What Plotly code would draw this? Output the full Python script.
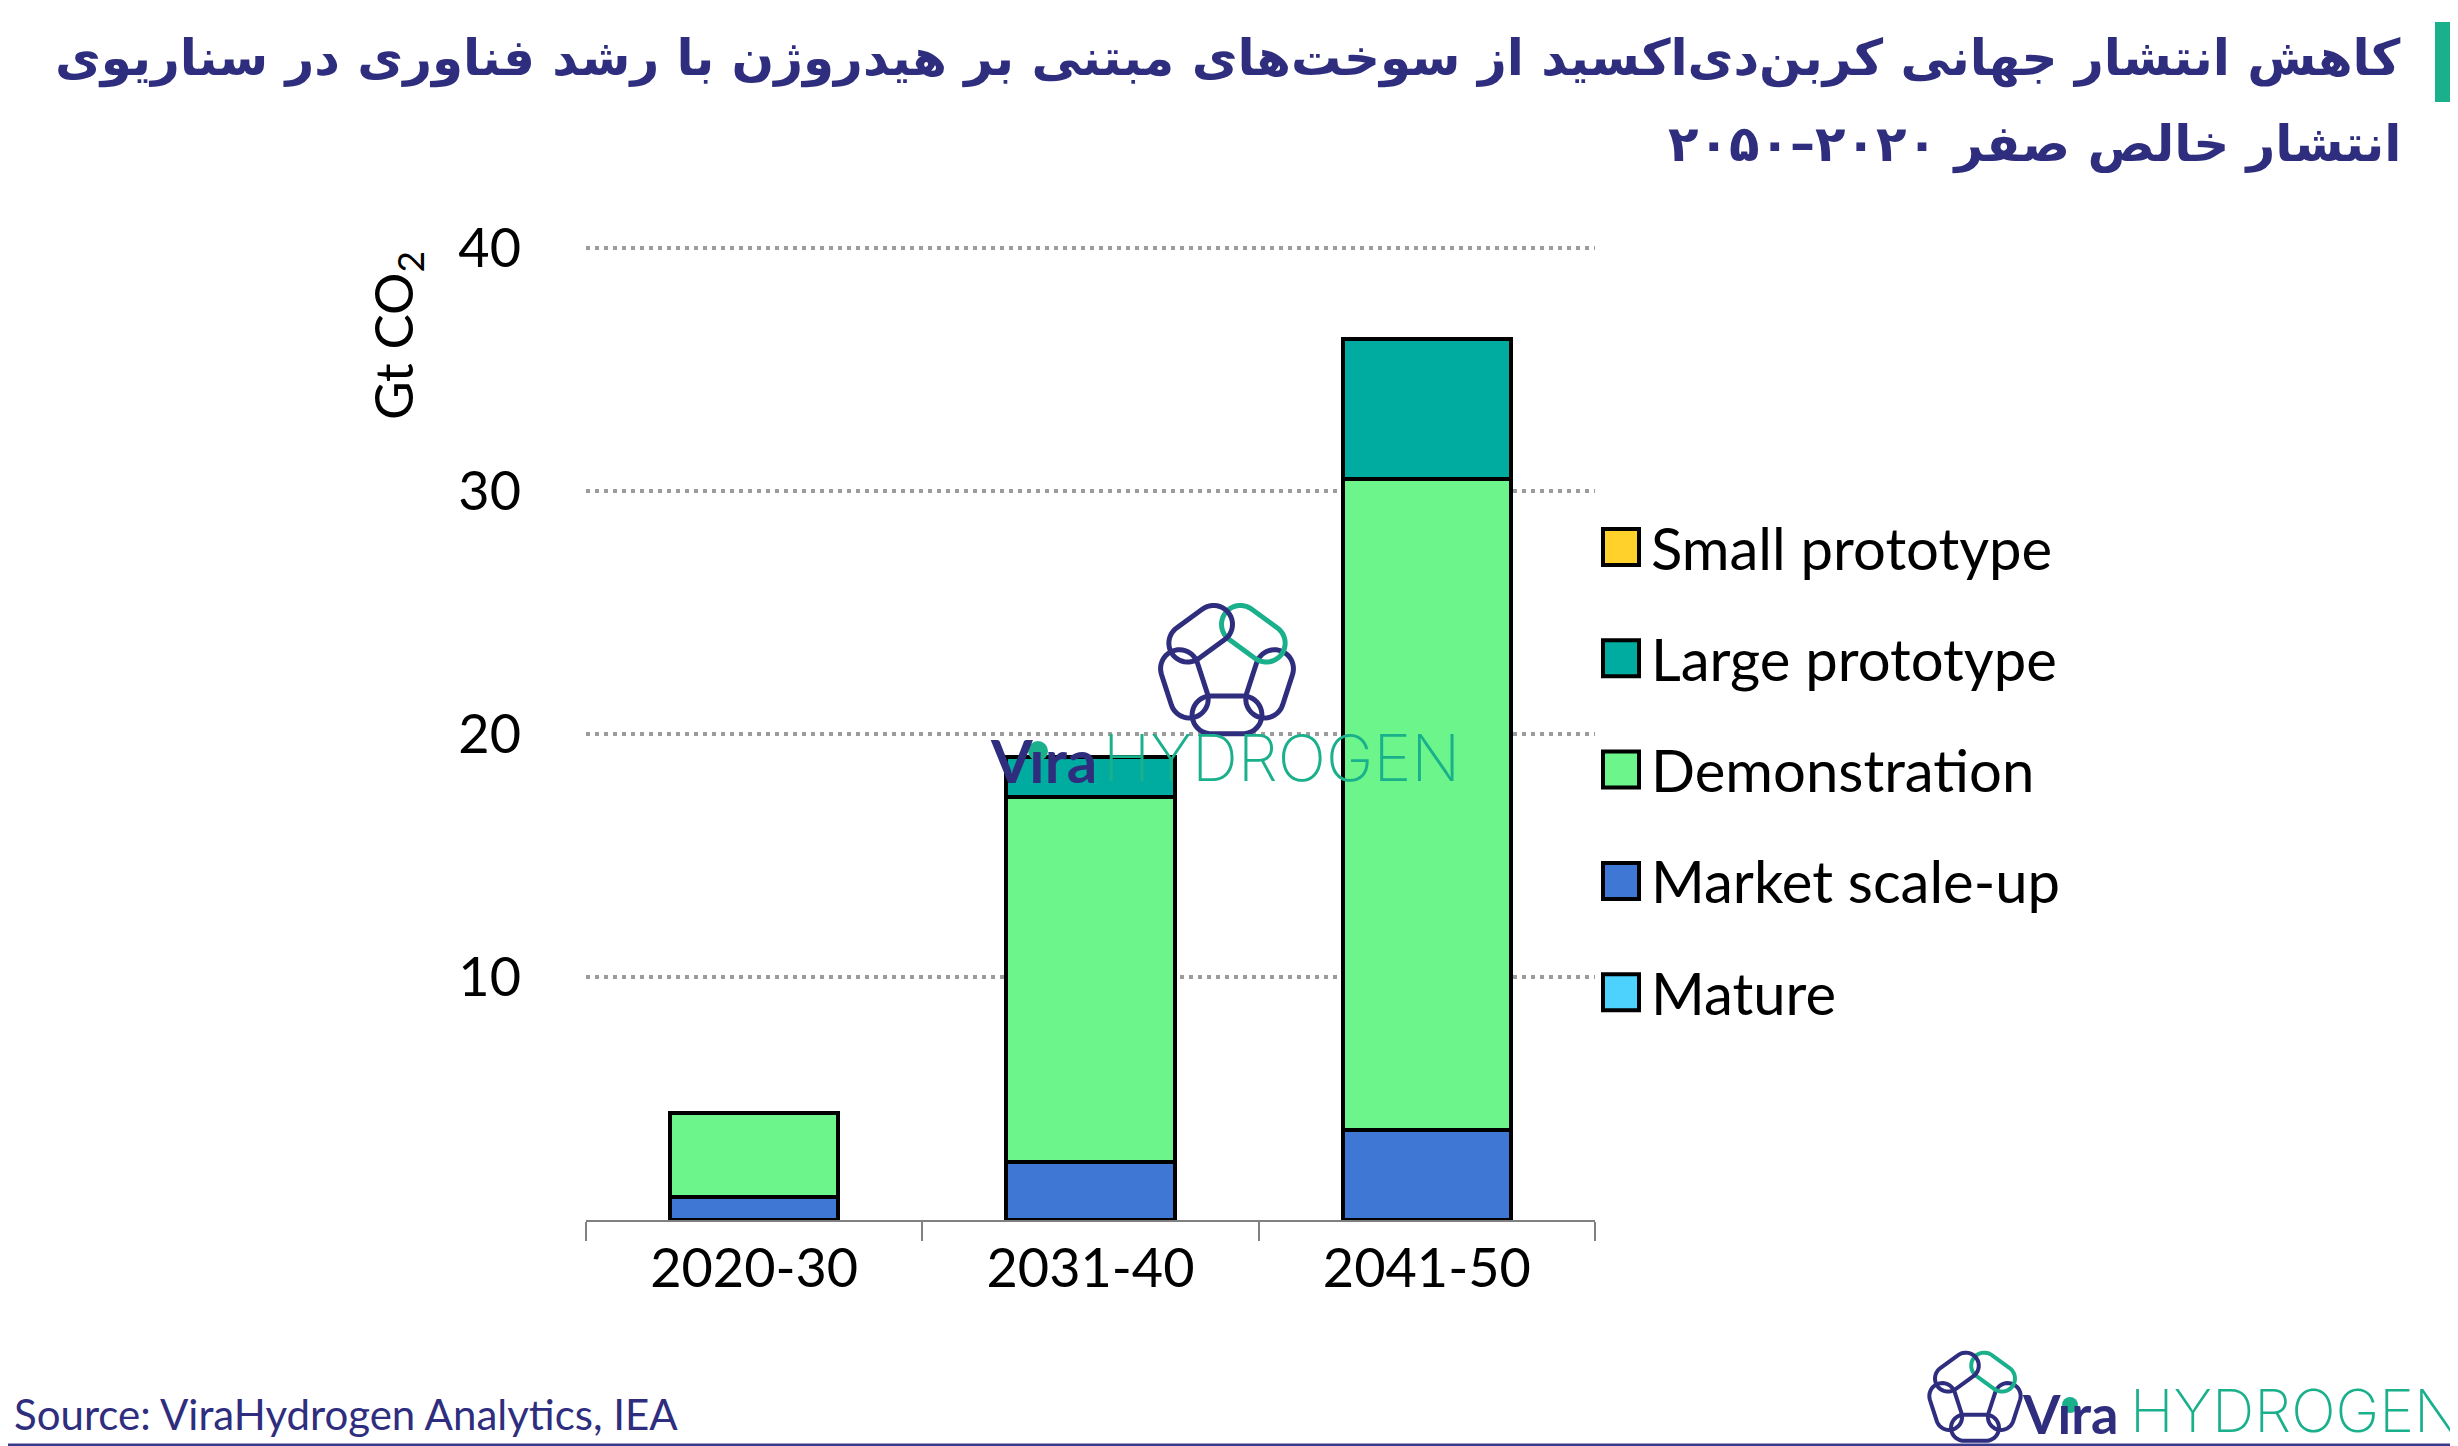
import numpy as np
import plotly.graph_objects as go

# ---- data ----
categories = ["2020-30", "2031-40", "2041-50"]
series_names = ["Small prototype", "Large prototype", "Demonstration", "Market scale-up", "Mature"]
series_colors = ["#FFD12A", "#00AB9F", "#6BF58A", "#3E78D4", "#4DD2FD"]
small_proto = [0, 0, 0]
large_proto = [0, 1.65, 5.75]
demonstration = [3.47, 15.0, 26.8]
market_scaleup = [0.95, 2.4, 3.7]
mature = [0, 0, 0]
series_values = [small_proto, large_proto, demonstration, market_scaleup, mature]

y_ticks = [10, 20, 30, 40]

title_lines = [
    "کاهش انتشار جهانی کربن\u200cدی\u200cاکسید از سوخت\u200cهای مبتنی بر هیدروژن با رشد فناوری در سناریوی",
    "انتشار خالص صفر ۲۰۲۰–۲۰۵۰",
]
source_text = "Source: ViraHydrogen Analytics, IEA"

# ---- page geometry (pixels) ----
W, H = 2458, 1446
ML, MR, MT, MB = 578, 871, 233, 234
PW, PH = W - ML - MR, H - MT - MB

NAVY = "#2F2E7E"
TEAL = "#1BB08C"
FONT = "Lato"


def px(x):
    return (x - ML) / PW


def py(y):
    return (H - MB - y) / PH


fig = go.Figure()

# stacked bars, bottom to top
for name, color, vals in reversed(list(zip(series_names, series_colors, series_values))):
    fig.add_trace(go.Bar(
        x=categories, y=vals, name=name,
        marker=dict(color=color, line=dict(color="black", width=4)),
        showlegend=False,
    ))

shapes = []
annotations = []

# legend drawn by hand (bigger squares than plotly allows)
leg_y0 = 539
leg_step = 111.3
for i, (name, color) in enumerate(zip(series_names, series_colors)):
    cy = leg_y0 + i * leg_step
    shapes.append(dict(type="rect", xref="paper", yref="paper",
                       x0=px(1595), x1=px(1631), y0=py(cy + 18), y1=py(cy - 18),
                       fillcolor=color, line=dict(color="black", width=4), layer="above"))
    annotations.append(dict(x=px(1641), y=py(cy), xref="paper", yref="paper",
                            text=name, showarrow=False, xanchor="left", yanchor="middle",
                            font=dict(family=FONT, size=58, color="black")))

# y axis title
annotations.append(dict(x=px(388), y=py(328), xref="paper", yref="paper",
                        text="Gt CO<sub>2</sub>", textangle=-90, showarrow=False,
                        xanchor="center", yanchor="middle",
                        font=dict(family=FONT, size=53, color="black")))

# title
for text, ty in zip(title_lines, [50, 136]):
    annotations.append(dict(x=px(2395), y=py(ty), xref="paper", yref="paper",
                            text="<b>" + text + "</b>", showarrow=False,
                            xanchor="right", yanchor="middle",
                            font=dict(family="DejaVu Sans", size=50, color=NAVY)))
shapes.append(dict(type="rect", xref="paper", yref="paper",
                   x0=px(2427), x1=px(2448), y0=py(94), y1=py(14),
                   fillcolor=TEAL, line=dict(width=0)))

# source + bottom rule
annotations.append(dict(x=px(4), y=py(1406), xref="paper", yref="paper",
                        text=source_text, showarrow=False, xanchor="left", yanchor="middle",
                        font=dict(family=FONT, size=42, color=NAVY)))
shapes.append(dict(type="line", xref="paper", yref="paper",
                   x0=px(0), x1=px(W), y0=py(1437), y1=py(1437),
                   line=dict(color="#3A3A8A", width=3)))


def chain_icon(cx, cy, ro, lw):
    """pentagon of chain links, pixel shapes anchored at (cx, cy)"""
    a, r, half = 0.70 * ro, 0.295 * ro, 0.25 * ro
    out = []
    for ang in [-90, -18, 54, 126, 198]:
        th = np.radians(ang)
        n = np.array([np.cos(th), np.sin(th)])
        t = np.array([-np.sin(th), np.cos(th)])
        c = a * n
        phi1 = np.linspace(-np.pi / 2, np.pi / 2, 24)
        phi2 = np.linspace(np.pi / 2, 3 * np.pi / 2, 24)
        u = np.concatenate([half + r * np.cos(phi1), -half + r * np.cos(phi2)])
        v = np.concatenate([r * np.sin(phi1), r * np.sin(phi2)])
        pts = c[None, :] + u[:, None] * t[None, :] + v[:, None] * n[None, :]
        path = "M" + " L".join(f"{p[0]:.2f},{p[1]:.2f}" for p in pts) + " Z"
        out.append(dict(type="path", path=path, xref="paper", yref="paper",
                        xsizemode="pixel", ysizemode="pixel",
                        xanchor=px(cx), yanchor=py(cy),
                        line=dict(color=TEAL if ang == 54 else NAVY, width=lw),
                        layer="above"))
    return out


def wordmark(x, y, vira_size, hyd_size, hyd_x, dot_x, dot_y, dot_r):
    # dotless i, the dot is drawn in teal
    ann = [
        dict(x=px(x), y=py(y), xref="paper", yref="paper", text="<b>V\u0131ra</b>", showarrow=False,
             xanchor="left", yanchor="bottom",
             font=dict(family=FONT, size=vira_size, color=NAVY)),
        dict(x=px(hyd_x), y=py(y), xref="paper", yref="paper", text="HYDROGEN", showarrow=False,
             xanchor="left", yanchor="bottom",
             font=dict(family="Inter", size=hyd_size, color=TEAL, weight=200)),
    ]
    dot = dict(type="circle", xref="paper", yref="paper",
               x0=px(dot_x - dot_r), x1=px(dot_x + dot_r),
               y0=py(dot_y + dot_r), y1=py(dot_y - dot_r),
               fillcolor=TEAL, line=dict(width=0), layer="above")
    return ann, dot


# watermark in the middle
shapes += chain_icon(1219, 662, 64, 5)
ann, dot = wordmark(980, 790, 60, 64, 1093, 1030, 743, 10)
annotations += ann
shapes.append(dot)
# logo bottom right
shapes += chain_icon(1967, 1389, 44, 4)
ann, dot = wordmark(2012, 1440, 54, 59, 2120, 2062, 1397, 8)
annotations += ann
shapes.append(dot)

fig.update_layout(
    width=W, height=H,
    margin=dict(l=ML, r=MR, t=MT, b=MB, autoexpand=False),
    paper_bgcolor="white", plot_bgcolor="white",
    barmode="stack", bargap=0.5,
    showlegend=False,
    shapes=shapes, annotations=annotations,
    xaxis=dict(
        showline=True, linecolor="#808080", linewidth=2,
        ticks="outside", ticklen=19, tickwidth=2, tickcolor="#808080",
        tickson="boundaries", showgrid=False,
        tickfont=dict(family=FONT, size=54, color="black"),
    ),
    yaxis=dict(
        range=[0, 40.3], tickvals=y_ticks, showline=False, zeroline=False,
        showgrid=True, gridcolor="#9C9C9C", gridwidth=4, griddash="4px,5px",
        ticklabelstandoff=64,
        tickfont=dict(family=FONT, size=54, color="black"),
    ),
)

fig.write_html("out.html")
